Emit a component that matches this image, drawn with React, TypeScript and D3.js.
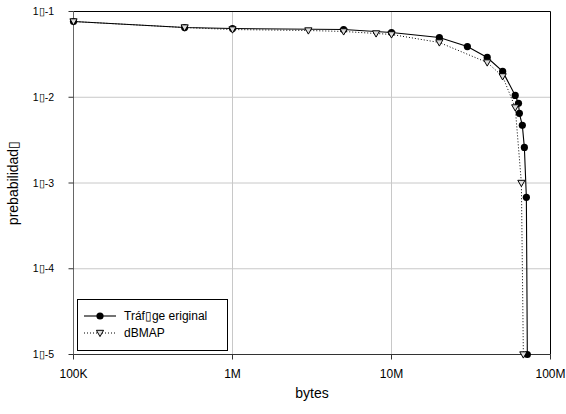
import React from "react";
import * as d3 from "d3";

// Complementary CDF of transfer sizes: measured traffic vs. dBMAP model
const traficoBytes = [1e5, 5e5, 1e6, 5e6, 1e7, 2e7, 3e7, 4e7, 5e7, 6e7, 6.29e7, 6.37e7, 6.65e7, 6.85e7, 7.05e7, 7.15e7];
const traficoProb = [0.0764, 0.065, 0.0633, 0.0616, 0.0569, 0.0497, 0.039, 0.0291, 0.02, 0.0105, 0.0085, 0.0065, 0.0047, 0.0026, 0.00068, 1e-5];

const dbmapBytes = [1e5, 5e5, 1e6, 3e6, 5e6, 8e6, 1e7, 2e7, 4e7, 5e7, 6e7, 6.56e7, 6.75e7];
const dbmapProb = [0.0764, 0.065, 0.0616, 0.06, 0.0585, 0.0554, 0.054, 0.0435, 0.0254, 0.0175, 0.0076, 0.001, 1e-5];

const xTicks = [1e5, 1e6, 1e7, 1e8];
const xTickLabels = ["100K", "1M", "10M", "100M"];
const yTicks = [1e-1, 1e-2, 1e-3, 1e-4, 1e-5];
const yTickLabels = ["1\u25AF-1", "1\u25AF-2", "1\u25AF-3", "1\u25AF-4", "1\u25AF-5"];

const seriesNames = ["Tr\u00E1f\u25AFge eriginal", "dBMAP"];

const W = 566;
const H = 414;
const M = { left: 73.5, right: 550.5, top: 11.5, bottom: 354.5 };
const FONT = "'Liberation Sans', Arial, sans-serif";

export default function App() {
  const x = d3.scaleLog().domain([1e5, 1e8]).range([M.left, M.right]);
  const y = d3.scaleLog().domain([1e-5, 1e-1]).range([M.bottom, M.top]);

  const line = d3
    .line<[number, number]>()
    .x((d) => x(d[0]))
    .y((d) => y(d[1]));

  const trafico: [number, number][] = traficoBytes.map((b, i) => [b, traficoProb[i]]);
  const dbmap: [number, number][] = dbmapBytes.map((b, i) => [b, dbmapProb[i]]);

  const tri = (cx: number, cy: number, s = 3.6) =>
    `M${cx - s},${cy - s * 0.75}L${cx + s},${cy - s * 0.75}L${cx},${cy + s * 1.0}Z`;

  return (
    <svg width={W} height={H} style={{ display: "block", position: "absolute", left: 0, top: 0 }} fontFamily={FONT}>
      <rect x={0} y={0} width={W} height={H} fill="#fff" />

      {/* grid */}
      {xTicks.slice(1, -1).map((t) => (
        <line key={"gx" + t} x1={x(t)} x2={x(t)} y1={M.top} y2={M.bottom} stroke="#c8c8c8" strokeWidth={1} />
      ))}
      {yTicks.slice(1, -1).map((t) => (
        <line key={"gy" + t} x1={M.left} x2={M.right} y1={y(t)} y2={y(t)} stroke="#c8c8c8" strokeWidth={1} />
      ))}

      {/* frame */}
      <line x1={M.left} x2={M.right} y1={M.top} y2={M.top} stroke="#000" />
      <line x1={M.right} x2={M.right} y1={M.top} y2={M.bottom} stroke="#000" />
      <line x1={M.left} x2={M.right} y1={M.bottom} y2={M.bottom} stroke="#333" />
      <line x1={M.left} x2={M.left} y1={M.top} y2={M.bottom} stroke="#666" />

      {/* y ticks */}
      {yTicks.map((t, i) => (
        <g key={"yt" + t}>
          <line x1={M.left - 5} x2={M.left} y1={y(t)} y2={y(t)} stroke="#333" />
          <text x={54} y={y(t)} dy="0.35em" textAnchor="end" fontSize={10.5} fill="#000">
            {yTickLabels[i]}
          </text>
        </g>
      ))}

      {/* x ticks */}
      {xTicks.map((t, i) => (
        <g key={"xt" + t}>
          <line x1={x(t)} x2={x(t)} y1={M.bottom} y2={M.bottom + 5} stroke="#333" />
          <text x={x(t)} y={378} textAnchor="middle" fontSize={12} fill="#000">
            {xTickLabels[i]}
          </text>
        </g>
      ))}

      {/* axis titles */}
      <text x={312} y={398} textAnchor="middle" fontSize={14} fill="#000">bytes</text>
      <text transform={`translate(18,${(M.top + M.bottom) / 2}) rotate(-90)`} textAnchor="middle" fontSize={14} fill="#000">
        prebabilidad{"\u25AF"}
      </text>

      {/* measured traffic */}
      <path d={line(trafico) ?? ""} fill="none" stroke="#000" strokeWidth={1.1} />
      {trafico.map((d, i) => (
        <circle key={"c" + i} cx={x(d[0])} cy={y(d[1])} r={3.6} fill="#000" />
      ))}

      {/* dBMAP model */}
      <path d={line(dbmap) ?? ""} fill="none" stroke="#000" strokeWidth={1} strokeDasharray="1,2" />
      {dbmap.map((d, i) => (
        <path key={"t" + i} d={tri(x(d[0]), y(d[1]))} fill="#ddd" stroke="#000" strokeWidth={1} />
      ))}

      {/* legend */}
      <rect x={77.5} y={299.5} width={150} height={51} fill="#fff" stroke="#000" />
      <line x1={84} x2={116} y1={316} y2={316} stroke="#000" strokeWidth={1.1} />
      <circle cx={100} cy={316} r={3.6} fill="#000" />
      <text x={124} y={316} dy="0.35em" fontSize={12}>{seriesNames[0]}</text>
      <line x1={84} x2={116} y1={333} y2={333} stroke="#000" strokeDasharray="1,2" />
      <path d={tri(100, 333)} fill="#ddd" stroke="#000" />
      <text x={124} y={333} dy="0.35em" fontSize={12}>{seriesNames[1]}</text>
    </svg>
  );
}
